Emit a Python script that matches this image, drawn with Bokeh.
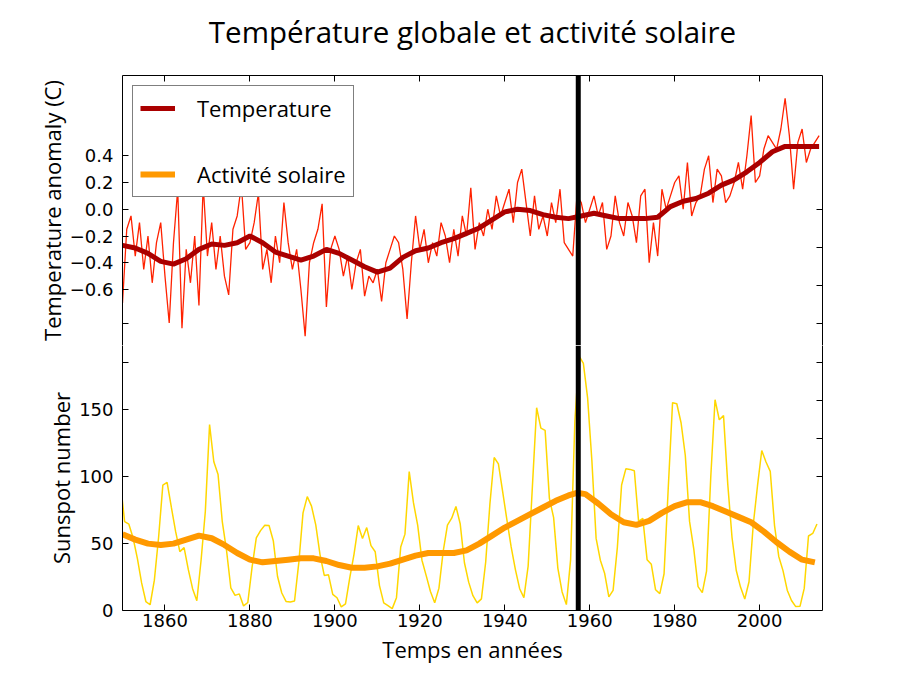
import numpy as np
from bokeh.plotting import figure
from bokeh.layouts import column
from bokeh.models import Range1d, LinearAxis, FixedTicker, Span, Legend, LegendItem
from bokeh.embed import file_html
from bokeh.resources import INLINE

# ---------------- data ----------------
temp_years = list(range(1850, 2015))
temp_anomaly = [
    -0.70, -0.15, -0.05, -0.35, -0.10, -0.45, -0.20, -0.55, -0.25, -0.10,
    -0.50, -0.85, -0.25, 0.15, -0.89, -0.30, -0.55, -0.20, -0.72, 0.18,
    -0.35, -0.10, -0.45, -0.20, -0.50, -0.64, -0.15, -0.05, 0.18, -0.30,
    -0.25, -0.10, 0.12, -0.45, -0.30, -0.55, -0.20, -0.40, 0.05, -0.25,
    -0.45, -0.30, -0.60, -0.95, -0.40, -0.25, -0.15, 0.04, -0.73, -0.30,
    -0.20, -0.30, -0.50, -0.35, -0.60, -0.40, -0.30, -0.65, -0.50, -0.55,
    -0.45, -0.69, -0.40, -0.30, -0.20, -0.25, -0.45, -0.82, -0.40, -0.05,
    -0.30, -0.15, -0.40, -0.25, -0.35, -0.10, -0.20, -0.40, -0.15, -0.35,
    -0.05, -0.20, 0.16, -0.30, -0.10, -0.20, 0.00, -0.15, 0.10, -0.05,
    0.05, 0.15, -0.10, 0.20, 0.30, 0.05, -0.20, 0.10, -0.15, -0.05,
    -0.20, 0.05, -0.10, 0.15, -0.25, -0.30, -0.35, 0.10, 0.05, -0.10,
    0.00, 0.10, -0.05, 0.05, -0.30, -0.20, 0.10, -0.10, -0.20, 0.05,
    -0.05, -0.25, 0.10, 0.15, -0.40, -0.10, -0.35, 0.15, 0.00, 0.10,
    0.20, 0.25, 0.00, 0.35, -0.05, 0.05, 0.10, 0.30, 0.40, 0.05,
    0.30, 0.25, 0.05, 0.10, 0.20, 0.35, 0.15, 0.40, 0.70, 0.20,
    0.25, 0.45, 0.55, 0.50, 0.45, 0.60, 0.83, 0.55, 0.15, 0.50,
    0.60, 0.35, 0.45, 0.50, 0.55,
]

temp_smooth_years = [1850, 1853, 1856, 1859, 1862, 1865, 1868, 1871, 1874, 1877,
                     1880, 1883, 1886, 1889, 1892, 1895, 1898, 1901, 1904, 1907,
                     1910, 1913, 1916, 1919, 1922, 1925, 1928, 1931, 1934, 1937,
                     1940, 1943, 1946, 1949, 1952, 1955, 1958, 1961, 1964, 1967,
                     1970, 1973, 1976, 1979, 1982, 1985, 1988, 1991, 1994, 1997,
                     2000, 2003, 2006, 2009, 2012, 2014]
temp_smooth = [-0.27, -0.29, -0.33, -0.39, -0.41, -0.37, -0.30, -0.26, -0.27, -0.25,
               -0.20, -0.25, -0.32, -0.35, -0.38, -0.35, -0.30, -0.33, -0.38, -0.43,
               -0.47, -0.44, -0.36, -0.31, -0.29, -0.25, -0.22, -0.18, -0.14, -0.08,
               -0.02, 0.00, -0.01, -0.04, -0.06, -0.07, -0.05, -0.03, -0.05, -0.07,
               -0.07, -0.07, -0.06, 0.02, 0.06, 0.08, 0.12, 0.18, 0.22, 0.28,
               0.35, 0.43, 0.47, 0.47, 0.47, 0.47]

sun_years = [y + 0.5 for y in range(1849, 2014)]
sunspots = [
    95.9,
    66.5, 64.5, 54.2, 39.0, 20.6, 6.7, 4.3, 22.7, 54.8, 93.8,
    95.8, 77.2, 59.1, 44.0, 47.0, 30.5, 16.3, 7.3, 37.6, 74.0,
    139.0, 111.2, 101.6, 66.2, 44.7, 17.0, 11.3, 12.4, 3.4, 6.0,
    32.3, 54.3, 59.7, 63.7, 63.5, 52.2, 25.4, 13.1, 6.8, 6.3,
    7.1, 35.6, 73.0, 85.1, 78.0, 64.0, 41.8, 26.2, 26.7, 12.1,
    9.5, 2.7, 5.0, 24.4, 42.0, 63.5, 53.8, 62.0, 48.5, 43.9,
    18.6, 5.7, 3.6, 1.4, 9.6, 47.4, 57.1, 103.9, 80.6, 63.6,
    37.6, 26.1, 14.2, 5.8, 16.7, 44.3, 63.9, 69.0, 77.8, 64.9,
    35.7, 21.2, 11.1, 5.7, 8.7, 36.1, 79.7, 114.4, 109.6, 88.8,
    67.8, 47.5, 30.6, 16.3, 9.6, 33.2, 92.6, 151.6, 136.3, 134.7,
    83.9, 69.4, 31.5, 13.9, 4.4, 38.0, 141.7, 190.2, 184.8, 159.0,
    112.3, 53.9, 37.6, 27.9, 10.2, 15.1, 47.0, 93.8, 105.9, 105.5,
    104.5, 66.6, 68.9, 38.0, 34.5, 15.5, 12.6, 27.5, 92.5, 155.4,
    154.6, 140.4, 115.9, 66.6, 45.9, 17.9, 13.4, 29.4, 100.2, 157.6,
    142.6, 145.7, 94.3, 54.6, 29.9, 17.5, 8.6, 21.5, 64.3, 93.3,
    119.6, 111.0, 104.0, 63.7, 40.4, 29.8, 15.2, 7.5, 2.9, 3.1,
    16.5, 55.7, 57.6, 64.7,
]

sun_smooth_years = [1850, 1853, 1856, 1859, 1862, 1865, 1868, 1871, 1874, 1877,
                    1880, 1883, 1886, 1889, 1892, 1895, 1898, 1901, 1904, 1907,
                    1910, 1913, 1916, 1919, 1922, 1925, 1928, 1931, 1934, 1937,
                    1940, 1943, 1946, 1949, 1952, 1955, 1957, 1959, 1962, 1965,
                    1968, 1971, 1974, 1977, 1980, 1983, 1986, 1989, 1992, 1995,
                    1998, 2001, 2004, 2007, 2010, 2013]
sun_smooth = [57, 53, 50, 49, 50, 53, 56, 54, 49, 43,
              38, 36, 37, 38, 39, 39, 37, 34, 32, 32,
              33, 35, 38, 41, 43, 43, 43, 45, 50, 56,
              62, 67, 72, 77, 82, 86, 88, 87, 80, 72,
              66, 64, 67, 73, 78, 81, 81, 78, 74, 70,
              66, 59, 51, 44, 38, 36]

year_ticks = [1860, 1880, 1900, 1920, 1940, 1960, 1980, 2000]
temp_ticks = [0.4, 0.2, 0.0, -0.2, -0.4, -0.6]
sun_ticks = [0, 50, 100, 150]
vline_year = 1957.3

TITLE = "Température globale et activité solaire"

# full (shared) scales: temperature -3..1 and sunspots 0..400 over one frame
X0, X1 = 1850.0, 2014.8
T0, T1 = -3.0, 1.0
S0, S1 = 0.0, 400.0

FRAME_W, FRAME_H = 700, 535
SPLIT_PX = 270             # upper panel (temperature) height
TICK_FONT = "DejaVu Sans"
TEXT_FONT = "Open Sans"

T_split = T1 - SPLIT_PX * (T1 - T0) / FRAME_H
S_split = S0 + (FRAME_H - SPLIT_PX) * (S1 - S0) / FRAME_H


def t_to_s(t):
    return S0 + (t - T0) * (S1 - S0) / (T1 - T0)


x_range = Range1d(X0, X1)

p1 = figure(output_backend="svg", toolbar_location=None,
            frame_width=FRAME_W, frame_height=SPLIT_PX,
            x_range=x_range, y_range=Range1d(T_split, T1),
            x_axis_location="above",
            min_border_left=122, min_border_right=67,
            min_border_top=75, min_border_bottom=0)
p2 = figure(output_backend="svg", toolbar_location=None,
            frame_width=FRAME_W, frame_height=FRAME_H - SPLIT_PX,
            x_range=x_range, y_range=Range1d(S0, S_split),
            min_border_left=122, min_border_right=67,
            min_border_top=0, min_border_bottom=53,
            x_axis_label="Temps en années")
# upper panel also knows the sunspot scale (its part of the shared frame)
p1.extra_y_ranges = {"sun": Range1d(S_split, S1)}

for p in (p1, p2):
    p.background_fill_color = "white"
    p.border_fill_color = "white"
    p.outline_line_color = None
    p.xgrid.visible = False
    p.ygrid.visible = False

# data lines
r_temp = p1.line(temp_years, temp_anomaly, line_color="#ff2200", line_width=1.3)
r_temp_s = p1.line(temp_smooth_years, temp_smooth, line_color="#aa0000", line_width=5)
r_sun = p2.line(sun_years, sunspots, line_color="#ffd700", line_width=1.5)
r_sun_s = p2.line(sun_smooth_years, sun_smooth, line_color="#ff9900", line_width=6)
# same smoothed sunspot curve on the upper panel's part of the scale (falls below it,
# so it is clipped there); it provides the legend entry of the upper panel
r_sun_s_up = p1.line(sun_smooth_years, sun_smooth, line_color="#ff9900", line_width=6,
                     y_range_name="sun")

for p in (p1, p2):
    p.add_layout(Span(location=vline_year, dimension="height", line_color="black",
                      line_width=5))

# tick sets
extra_left_t = [-6 / 7, -8 / 7]
right_ticks_t = list(np.linspace(0, -2, 8))

left1 = temp_ticks + [t for t in extra_left_t if t >= T_split]
over1 = {t: ("\u2212" if t < 0 else "") + f"{abs(t):.1f}" for t in temp_ticks}
over1.update({t: "" for t in extra_left_t if t >= T_split})

left2 = sun_ticks + [t_to_s(t) for t in extra_left_t if t < T_split]
over2 = {s: str(s) for s in sun_ticks}
over2.update({t_to_s(t): "" for t in extra_left_t if t < T_split})

right1 = [t for t in right_ticks_t if t >= T_split]
right2 = [t_to_s(t) for t in right_ticks_t if t < T_split]


def style_axis(ax, ticks, overrides, labels=True):
    ax.ticker = FixedTicker(ticks=ticks)
    ax.major_label_overrides = overrides
    ax.major_tick_in = 6
    ax.major_tick_out = 0
    ax.minor_tick_line_color = None
    ax.major_tick_line_color = "black"
    ax.axis_line_color = "black"
    ax.major_label_text_font = TICK_FONT
    ax.major_label_text_font_size = "18px"
    ax.major_label_text_color = "black"
    ax.axis_label_text_font = TEXT_FONT
    ax.axis_label_text_font_size = "22px"
    ax.axis_label_text_font_style = "normal"
    ax.axis_label_text_color = "black"
    if not labels:
        ax.major_label_standoff = 0


# upper panel axes (the top axis carries the chart title as its label)
top = p1.xaxis[0]
style_axis(top, year_ticks, {t: "" for t in year_ticks}, labels=False)
top.axis_label = TITLE
top.axis_label_text_font_size = "29.5px"
top.axis_label_standoff = 24
style_axis(p1.yaxis[0], left1, over1)
p1.yaxis[0].major_label_standoff = 9
p1.yaxis[0].axis_label = "Temperature anomaly (C)"
p1.yaxis[0].axis_label_standoff = 0
ra1 = LinearAxis()
style_axis(ra1, right1, {t: "" for t in right1}, labels=False)
p1.add_layout(ra1, "right")

# lower panel axes
style_axis(p2.xaxis[0], year_ticks, {})
p2.xaxis[0].major_label_standoff = 3
p2.xaxis[0].axis_label_standoff = 4
style_axis(p2.yaxis[0], left2, over2)
p2.yaxis[0].major_label_standoff = 9
p2.yaxis[0].axis_label = "Sunspot number"
p2.yaxis[0].axis_label_standoff = 0
ra2 = LinearAxis()
style_axis(ra2, right2, {s: "" for s in right2}, labels=False)
p2.add_layout(ra2, "right")

legend = Legend(items=[LegendItem(label="Temperature", renderers=[r_temp_s]),
                       LegendItem(label="Activité solaire", renderers=[r_sun_s_up])],
                location="top_left", margin=10, padding=7, spacing=36,
                glyph_width=35, glyph_height=24, label_height=24, label_standoff=22,
                label_text_font=TEXT_FONT, label_text_font_size="22px",
                label_text_color="black",
                border_line_color="black", border_line_width=1.5,
                background_fill_color="white", background_fill_alpha=1.0)
p1.add_layout(legend)

layout = column(p1, p2, spacing=0)
open("out.html", "w").write(file_html(layout, INLINE))
